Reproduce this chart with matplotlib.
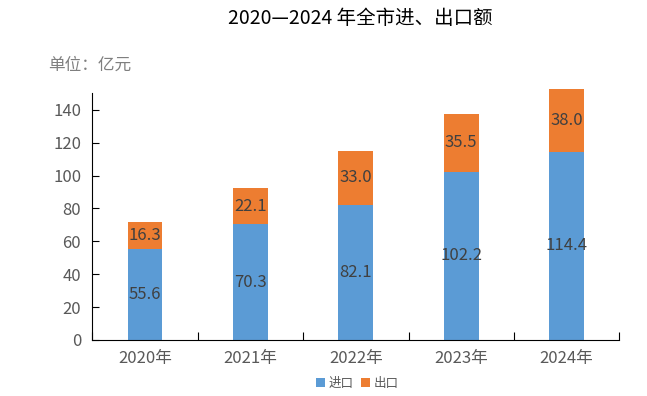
import matplotlib.pyplot as plt
import numpy as np

plt.rcParams['font.family'] = ['Noto Sans CJK SC', 'DejaVu Sans']

years = ['2020年', '2021年', '2022年', '2023年', '2024年']
imports = [55.6, 70.3, 82.1, 102.2, 114.4]
exports = [16.3, 22.1, 33.0, 35.5, 38.0]

blue = '#5B9BD5'
orange = '#ED7D31'
text_col = '#404040'

fig = plt.figure(figsize=(6.47, 3.96), dpi=100)
ax = fig.add_axes([92.3 / 647, 1 - 340 / 396, (619.3 - 92.3) / 647, (340 - 93.3) / 396])

x = np.arange(len(years))
b1 = ax.bar(x, imports, width=0.33, color=blue, label='进口', clip_on=False, zorder=2)
b2 = ax.bar(x, exports, width=0.33, bottom=imports, color=orange, label='出口', clip_on=False, zorder=2)

for i in range(len(years)):
    ax.text(x[i], imports[i] / 2, f'{imports[i]:.1f}', ha='center', va='center',
            fontsize=12, color=text_col, zorder=3)
    ax.text(x[i], imports[i] + exports[i] / 2, f'{exports[i]:.1f}', ha='center', va='center',
            fontsize=12, color=text_col, zorder=3)

ax.set_xlim(-0.5, len(years) - 0.5)
ax.set_ylim(0, 150)
ax.set_yticks(range(0, 141, 20))
ax.tick_params(axis='y', direction='in', length=5, labelsize=12, labelcolor='#595959', pad=8)

# category separators on the x axis
ax.set_xticks(np.arange(-0.5, len(years), 1.0))
ax.set_xticklabels([])
ax.set_xticks(x, minor=True)
ax.set_xticklabels(years, minor=True, fontsize=12, color='#595959')
ax.tick_params(axis='x', which='major', direction='in', length=6)
ax.tick_params(axis='x', which='minor', length=0, pad=7)

ax.spines['top'].set_visible(False)
ax.spines['right'].set_visible(False)
ax.spines['left'].set_color('black')
ax.spines['bottom'].set_color('black')

fig.text(360 / 647, 1 - 18 / 396, '2020—2024 年全市进、出口额', ha='center', va='center',
         fontsize=14, fontweight='medium', color='black')
fig.text(48 / 647, 1 - 65 / 396, '单位：亿元', ha='left', va='center',
         fontsize=12, color='#7f7f7f')

fig.legend(handles=[b1, b2], loc='center', bbox_to_anchor=(357 / 647, 1 - 383 / 396), ncol=2,
           frameon=False, fontsize=9, handlelength=0.7, handleheight=0.7,
           handletextpad=0.3, columnspacing=0.6, labelcolor='#595959')

fig.savefig('out.png', dpi=100)
